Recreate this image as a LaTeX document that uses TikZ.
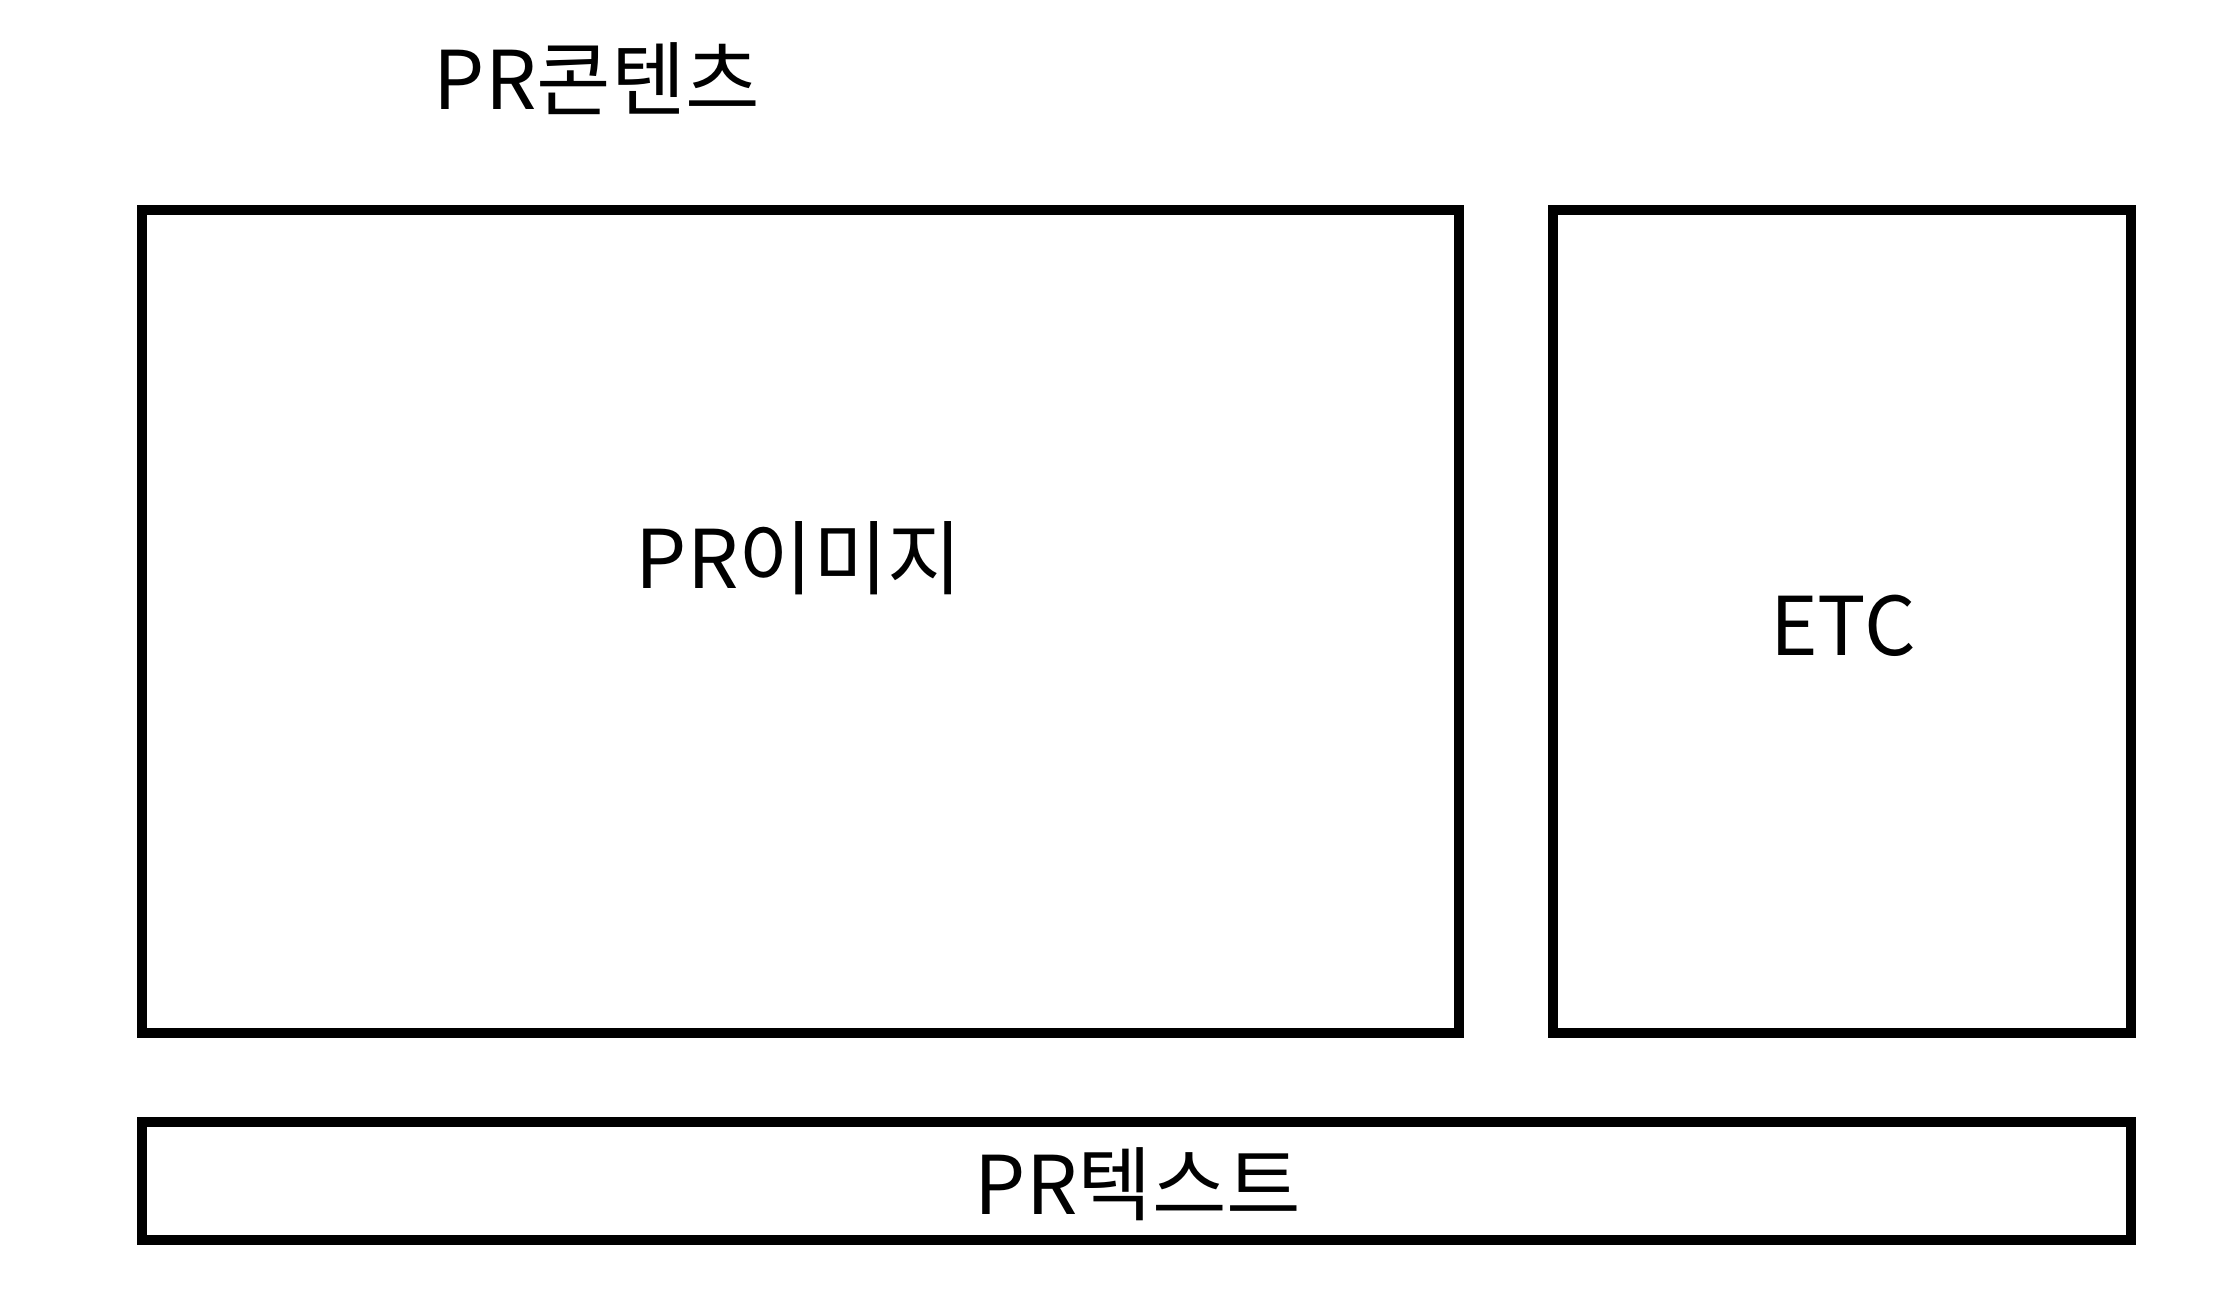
\documentclass[tikz,border=0pt]{standalone}
\usepackage{fontspec}
\setmainfont{Noto Sans CJK KR}
\begin{document}
\begin{tikzpicture}[x=1pt,y=-1pt,
  box/.style={draw=black,line width=10pt},
  lbl/.style={inner sep=0pt,anchor=base,font=\fontsize{81}{96}\selectfont}]
\useasboundingbox (0,0) rectangle (2234,1316);
\draw[box] (142,210) rectangle (1459,1033);
\draw[box] (1553,210) rectangle (2131,1033);
\draw[box] (142,1122) rectangle (2131,1240);
\node[lbl] (title) at (597,110) {PR콘텐츠};
\node[lbl] (img) at (799,588) {PR이미지};
\node[lbl] (etc) at (1843,655) {ETC};
\node[lbl] (txt) at (1138,1214) {PR텍스트};
\end{tikzpicture}
\end{document}
